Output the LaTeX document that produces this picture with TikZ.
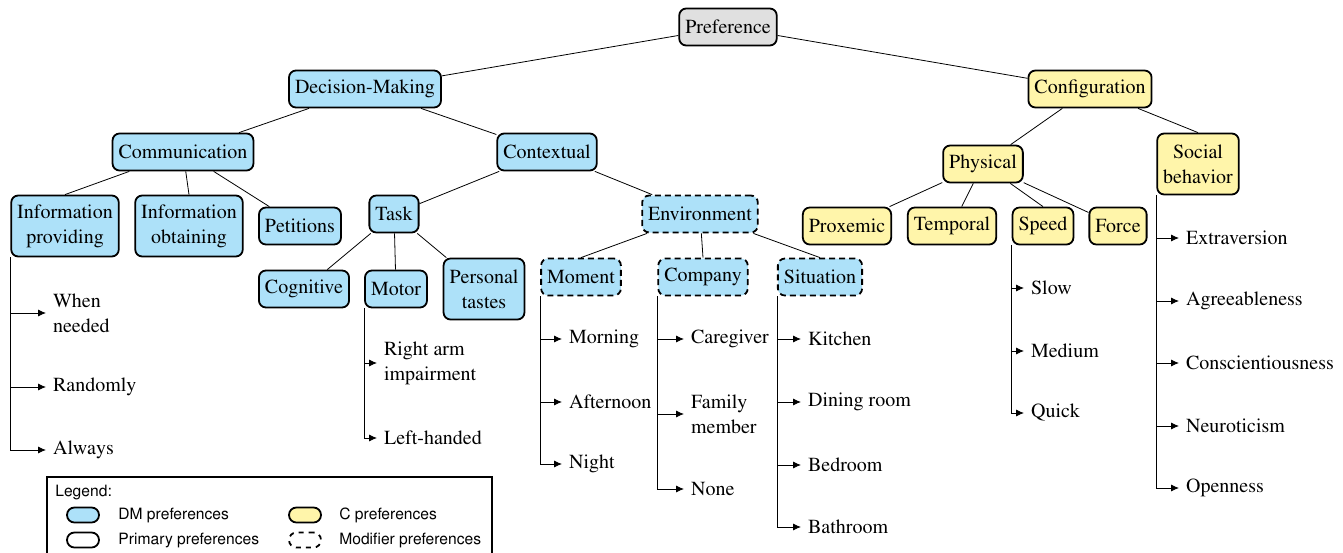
\documentclass[tikz,border=0pt]{standalone}
\usepackage[T1]{fontenc}
\usepackage{times}
\usetikzlibrary{arrows.meta}
\definecolor{dmblue}{HTML}{ADE1F9}
\definecolor{cyellow}{HTML}{FFF5AA}
\definecolor{rootgray}{HTML}{E0E0E0}

\begin{document}
\begin{tikzpicture}[x=0.5pt, y=-0.5pt,
    box/.style={draw, line width=0.9pt, rounded corners=3.5pt, inner xsep=3pt, inner ysep=4.5pt,
        minimum height=18.5pt, align=center, font=\rmfamily\fontsize{10}{12.5}\selectfont},
    tall/.style={minimum height=30.5pt},
    dmbox/.style={box, fill=dmblue},
    cbox/.style={box, fill=cyellow},
    modbox/.style={dmbox, dash pattern=on 3pt off 2pt},
    leaf/.style={anchor=west, align=left, font=\rmfamily\fontsize{10}{12.5}\selectfont},
    arr/.style={-{Latex[length=4pt,width=3.5pt]}},
    lgicon/.style={draw, line width=0.9pt, minimum width=16pt, minimum height=7.5pt, rounded corners=3.7pt, inner sep=0pt},
    lgtext/.style={anchor=west, inner sep=0pt, font=\sffamily\fontsize{7.8}{9}\selectfont}]
    \useasboundingbox (0,0) rectangle (1343,552);

    % Top levels
    \node[box, fill=rootgray] (pref) at (728,27) {Preference};
    \node[dmbox] (dm) at (365,89) {Decision-Making};
    \node[cbox] (conf) at (1090,89) {Configuration};
    \node[dmbox] (comm) at (183,152) {Communication};
    \node[dmbox] (ctx) at (547,152) {Contextual};
    \node[cbox] (phys) at (983,164) {Physical};
    \node[cbox, tall] (social) at (1198,164) {Social\\behavior};

    % Third level
    \node[dmbox, tall] (infoprov) at (65,226) {Information\\providing};
    \node[dmbox, tall] (infoobt) at (189,226) {Information\\obtaining};
    \node[dmbox] (petit) at (300,226) {Petitions};
    \node[dmbox] (task) at (394,214) {Task};
    \node[modbox] (env) at (700,214) {Environment};
    \node[cbox] (prox) at (847,226) {Proxemic};
    \node[cbox] (temp) at (952,226) {Temporal};
    \node[cbox] (speed) at (1043,226) {Speed};
    \node[cbox] (force) at (1118,226) {Force};

    % Fourth level
    \node[dmbox] (cogn) at (304,289) {Cognitive};
    \node[dmbox] (motor) at (396,289) {Motor};
    \node[dmbox, tall] (tastes) at (484,289) {Personal\\tastes};
    \node[modbox] (moment) at (581,277) {Moment};
    \node[modbox] (company) at (703,277) {Company};
    \node[modbox] (situation) at (820,277) {Situation};

    % Tree edges
    \draw (pref) -- (dm);
    \draw (pref) -- (conf);
    \draw (dm) -- (comm);
    \draw (dm) -- (ctx);
    \draw (conf) -- (phys);
    \draw (conf) -- (social.north);
    \draw (comm) -- (infoprov.north);
    \draw (comm) -- (infoobt.north);
    \draw (comm) -- (petit);
    \draw (ctx) -- (task);
    \draw (ctx) -- (env);
    \draw (phys) -- (prox);
    \draw (phys) -- (temp);
    \draw (phys) -- (speed.north);
    \draw (phys) -- (force);
    \draw (task) -- (cogn);
    \draw (task) -- (motor);
    \draw (task) -- (tastes);
    \draw (env) -- (moment.north);
    \draw (env) -- (company.north);
    \draw (env) -- (situation.north);

    % Leaf values
    \node[leaf] (needed) at (46,313) {When\\needed};
    \node[leaf] (random) at (46,387) {Randomly};
    \node[leaf] (always) at (46,450) {Always};
    \draw[arr] (infoprov.south west) |- (needed);
    \draw[arr] (infoprov.south west) |- (random);
    \draw[arr] (infoprov.south west) |- (always);

    \node[leaf] (rightarm) at (377,363) {Right arm\\impairment};
    \node[leaf] (lefthand) at (377,438) {Left-handed};
    \draw[arr] (motor.south west) |- (rightarm);
    \draw[arr] (motor.south west) |- (lefthand);

    \node[leaf] (morning) at (562,339) {Morning};
    \node[leaf] (afternoon) at (562,402) {Afternoon};
    \node[leaf] (night) at (562,464) {Night};
    \draw[arr] (moment.south west) |- (morning);
    \draw[arr] (moment.south west) |- (afternoon);
    \draw[arr] (moment.south west) |- (night);

    \node[leaf] (caregiver) at (684,339) {Caregiver};
    \node[leaf] (family) at (684,414) {Family\\member};
    \node[leaf] (nobody) at (684,489) {None};
    \draw[arr] (company.south west) |- (caregiver);
    \draw[arr] (company.south west) |- (family);
    \draw[arr] (company.south west) |- (nobody);

    \node[leaf] (kitchen) at (801,339) {Kitchen};
    \node[leaf] (dining) at (801,402) {Dining room};
    \node[leaf] (bedroom) at (801,465) {Bedroom};
    \node[leaf] (bathroom) at (801,527) {Bathroom};
    \draw[arr] (situation.south west) |- (kitchen);
    \draw[arr] (situation.south west) |- (dining);
    \draw[arr] (situation.south west) |- (bedroom);
    \draw[arr] (situation.south west) |- (bathroom);

    \node[leaf] (slow) at (1024,288) {Slow};
    \node[leaf] (medium) at (1024,351) {Medium};
    \node[leaf] (quick) at (1024,413) {Quick};
    \draw[arr] (speed.south west) |- (slow);
    \draw[arr] (speed.south west) |- (medium);
    \draw[arr] (speed.south west) |- (quick);

    \node[leaf] (extra) at (1179,238) {Extraversion};
    \node[leaf] (agree) at (1179,301) {Agreeableness};
    \node[leaf] (consc) at (1179,363) {Conscientiousness};
    \node[leaf] (neuro) at (1179,426) {Neuroticism};
    \node[leaf] (open) at (1179,488) {Openness};
    \draw[arr] (social.south west) |- (extra);
    \draw[arr] (social.south west) |- (agree);
    \draw[arr] (social.south west) |- (consc);
    \draw[arr] (social.south west) |- (neuro);
    \draw[arr] (social.south west) |- (open);

    % Legend
    \draw[line width=0.9pt] (47,477) rectangle (492,575);
    \node[lgtext] (lgtitle) at (55,493) {Legend:};
    \node[lgicon, fill=dmblue] (lgdm) at (83,515) {};
    \node[lgtext] at (118,515) {DM preferences};
    \node[lgicon, fill=cyellow] (lgc) at (305,515) {};
    \node[lgtext] at (339,515) {C preferences};
    \node[lgicon] (lgprim) at (83,540) {};
    \node[lgtext] at (118,540) {Primary preferences};
    \node[lgicon, dash pattern=on 2.5pt off 2.5pt] (lgmod) at (305,540) {};
    \node[lgtext] at (339,540) {Modifier preferences};
\end{tikzpicture}
\end{document}
